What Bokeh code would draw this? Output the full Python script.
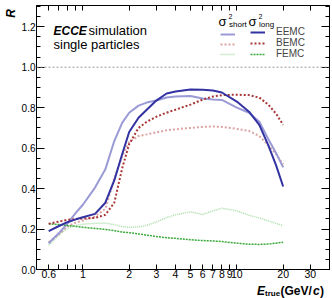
import math
from bokeh.plotting import figure
from bokeh.layouts import column, row
from bokeh.models import (Range1d, LogAxis, LinearAxis, FixedTicker, Spacer,
                          Label, Legend, LegendItem, Span, CustomJSTickFormatter, PrintfTickFormatter)
from bokeh.embed import file_html
from bokeh.resources import INLINE

# ---------------- data ----------------
E = [0.6, 0.7, 0.8, 0.9, 1.0, 1.2, 1.4, 1.6, 1.8, 2.0, 2.3, 2.6, 3.0, 3.5, 4.0,
     5.0, 6.0, 7.0, 8.0, 10.0, 12.0, 14.0, 16.0, 18.0, 20.0]

eemc_long = [0.19, 0.215, 0.235, 0.248, 0.258, 0.275, 0.33, 0.44, 0.57, 0.68, 0.75, 0.79,
             0.835, 0.87, 0.88, 0.89, 0.888, 0.885, 0.875, 0.83, 0.78, 0.715, 0.615, 0.515, 0.41]
eemc_short = [0.13, 0.18, 0.23, 0.28, 0.32, 0.405, 0.495, 0.635, 0.725, 0.775, 0.81, 0.825,
              0.835, 0.85, 0.855, 0.858, 0.845, 0.84, 0.838, 0.80, 0.775, 0.73, 0.645, 0.575, 0.505]
bemc_long = [0.226, 0.237, 0.246, 0.249, 0.252, 0.255, 0.27, 0.33, 0.50, 0.62, 0.70, 0.73,
             0.755, 0.775, 0.79, 0.815, 0.84, 0.855, 0.862, 0.864, 0.862, 0.85, 0.815, 0.77, 0.715]
bemc_short = [0.135, 0.175, 0.215, 0.232, 0.242, 0.262, 0.30, 0.45, 0.56, 0.63, 0.66, 0.668,
              0.678, 0.688, 0.693, 0.70, 0.705, 0.707, 0.705, 0.695, 0.685, 0.66, 0.615, 0.57, 0.52]
femc_long = [0.226, 0.222, 0.217, 0.213, 0.209, 0.203, 0.198, 0.192, 0.185, 0.182, 0.176, 0.17,
             0.163, 0.157, 0.154, 0.147, 0.143, 0.141, 0.138, 0.13, 0.125, 0.124, 0.126, 0.13, 0.135]
femc_short = [0.12, 0.17, 0.205, 0.218, 0.224, 0.228, 0.229, 0.222, 0.212, 0.209, 0.21, 0.218,
              0.235, 0.257, 0.27, 0.285, 0.272, 0.29, 0.303, 0.29, 0.268, 0.255, 0.24, 0.228, 0.217]

x_ticks = [0.6, 1, 2, 3, 4, 5, 6, 7, 8, 9, 10, 20, 30]
x_minor = [0.7, 0.8, 0.9]
y_ticks = [0.0, 0.2, 0.4, 0.6, 0.8, 1.0, 1.2]
detectors = ["EEMC", "BEMC", "FEMC"]

FONT = "Liberation Sans"

# ---------------- layout (page px; the layout sits at page (0, 0)) ----------------
W, H = 332, 298
LW = 18            # left strip (y-axis title)
MH = 281           # height of the main figure
FL, FR, FT, FB = 33, 329, 5, 269   # frame edges in page px
YSCALE = 202.3                      # px per unit of R in the reference

def strip(w, h, **kw):
    f = figure(width=w, height=h, output_backend="svg", toolbar_location=None,
               x_axis_location=None, y_axis_location=None,
               x_range=Range1d(0, 1), y_range=Range1d(0, 1),
               min_border=0, outline_line_color=None, **kw)
    f.grid.visible = False
    f.background_fill_color = "white"
    f.border_fill_color = "white"
    return f

p = figure(width=W - LW, height=MH, x_axis_type="log", output_backend="svg",
           toolbar_location=None, x_axis_location=None, y_axis_location=None,
           x_range=Range1d(0.5, 40), y_range=Range1d(0.0, (FB - FT) / YSCALE),
           min_border_left=FL - LW, min_border_right=W - FR,
           min_border_top=FT, min_border_bottom=MH - FB)
p.grid.visible = False
p.outline_line_color = "black"
p.background_fill_color = "white"
p.border_fill_color = "white"

def style_x(ax, labels=True):
    ax.ticker = FixedTicker(ticks=x_ticks, minor_ticks=x_minor)
    ax.major_tick_in = 5
    ax.major_tick_out = 0
    ax.minor_tick_in = 5
    ax.minor_tick_out = 0
    ax.axis_line_color = "black"
    ax.major_tick_line_color = "black"
    ax.minor_tick_line_color = "black"
    ax.major_label_text_font = FONT
    ax.major_label_text_font_size = "10.5px" if labels else "0px"
    ax.major_label_text_color = "black" if labels else None
    ax.major_label_standoff = 0
    ax.formatter = CustomJSTickFormatter(code="return tick.toString();")

def style_y(ax, labels=True):
    ax.ticker = FixedTicker(ticks=y_ticks,
                            minor_ticks=[i * 0.05 for i in range(27)])
    ax.major_tick_in = 8
    ax.major_tick_out = 0
    ax.minor_tick_in = 4
    ax.minor_tick_out = 0
    ax.axis_line_color = "black"
    ax.major_tick_line_color = "black"
    ax.minor_tick_line_color = "black"
    ax.major_label_text_font = FONT
    ax.major_label_text_font_size = "10px" if labels else "0px"
    ax.major_label_text_color = "black" if labels else None
    ax.major_label_standoff = 1 if labels else 0
    ax.formatter = PrintfTickFormatter(format="%.1f")

xb = LogAxis(); style_x(xb, True); p.add_layout(xb, "below")
xt = LogAxis(); style_x(xt, False); p.add_layout(xt, "above")
yl = LinearAxis(); style_y(yl, True); p.add_layout(yl, "left")
yr = LinearAxis(); style_y(yr, False); p.add_layout(yr, "right")

p.add_layout(Span(location=1.0, dimension="width", line_color="#999999",
                  line_width=1, line_dash="2 2"))

styles = {
    "eemc_short": dict(line_color="#9a9ad6", line_width=2, line_dash="solid"),
    "eemc_long": dict(line_color="#3232a2", line_width=2, line_dash="solid"),
    "bemc_short": dict(line_color="#dba3a3", line_width=2, line_dash="2 2"),
    "bemc_long": dict(line_color="#a83636", line_width=2, line_dash="2 2"),
    "femc_short": dict(line_color="#a8dca8", line_width=1.5, line_dash="1 1"),
    "femc_long": dict(line_color="#3aa83a", line_width=1.5, line_dash="2 1"),
}
series = {"eemc_short": eemc_short, "eemc_long": eemc_long,
          "bemc_short": bemc_short, "bemc_long": bemc_long,
          "femc_short": femc_short, "femc_long": femc_long}
r = {}
for key in ["femc_short", "bemc_short", "eemc_short", "femc_long", "bemc_long", "eemc_long"]:
    r[key] = p.line(E, series[key], **styles[key])

def mk_legend(keys, labels, x):
    leg = Legend(items=[LegendItem(label=l, renderers=[r[k]]) for k, l in zip(keys, labels)],
                 location=(x, FB - 59), orientation="vertical",
                 background_fill_alpha=0, border_line_color=None,
                 padding=0, margin=0, spacing=0,
                 glyph_width=15, glyph_height=10, label_height=10,
                 label_standoff=11, label_text_font=FONT,
                 label_text_font_size="10px")
    p.add_layout(leg, "center")

mk_legend(["eemc_short", "bemc_short", "femc_short"], [" ", " ", " "], 217 - FL)
mk_legend(["eemc_long", "bemc_long", "femc_long"], detectors, 247 - FL)

def lab(fig, text, x, y, size, style="normal", ox=FL, oy=FB):
    # x, y: page px of the text anchor; ox, oy: page px of the fig frame's bottom-left
    fig.add_layout(Label(x=x - ox, y=oy - y, x_units="screen", y_units="screen",
                         text=text, text_font=FONT, text_font_size=size,
                         text_font_style=style, text_color="black",
                         text_align="left", text_baseline="alphabetic"))

# legend header
lab(p, "σ", 215, 21, "13px")
lab(p, "2", 225, 16, "7px")
lab(p, "short", 225.5, 23.5, "8px")
lab(p, "σ", 245, 21, "13px")
lab(p, "2", 255, 16, "7px")
lab(p, "long", 255.5, 23.5, "8px")

# ECCE text
lab(p, "ECCE", 50, 30, "12px", "bold italic")
lab(p, "simulation", 85, 30, "13px")
lab(p, "single particles", 50, 44, "13px")

# y axis title: vertical axis labels of two tiny strips left of the main figure
def title_strip(h, text, size, style, frame_left):
    f = strip(LW, h, min_border_left=frame_left)
    ax = LinearAxis(ticker=FixedTicker(ticks=[]), axis_line_color=None,
                    major_tick_line_color=None, minor_tick_line_color=None,
                    major_tick_out=0, minor_tick_out=0, major_tick_in=0, minor_tick_in=0,
                    major_label_text_font_size="0px", major_label_standoff=0,
                    axis_label=text, axis_label_standoff=0,
                    axis_label_text_font=FONT, axis_label_text_font_size=size,
                    axis_label_text_font_style=style, axis_label_text_color="black")
    f.add_layout(ax, "left")
    return f

PI_H, R_H = 7, 12
s_pi = title_strip(PI_H, "π", "7px", "normal", 16)
s_r = title_strip(R_H, "R", "12px", "bold italic", 16)
fy = column(s_pi, s_r, Spacer(width=LW, height=MH - PI_H - R_H), spacing=0)

# x axis title, in a strip below
fx = strip(W, H - MH)
lab(fx, "E", 256.5, 290.5, "12px", "bold italic", ox=0, oy=H)
lab(fx, "true", 264.5, 292.5, "8px", "bold", ox=0, oy=H)
lab(fx, "(GeV/", 280, 290.5, "12px", "bold", ox=0, oy=H)
lab(fx, "c", 312.5, 290.5, "12px", "bold italic", ox=0, oy=H)
lab(fx, ")", 319.5, 290.5, "12px", "bold", ox=0, oy=H)

layout = column(row(fy, p, spacing=0), fx, spacing=0)
open("out.html", "w").write(file_html(layout, INLINE))
